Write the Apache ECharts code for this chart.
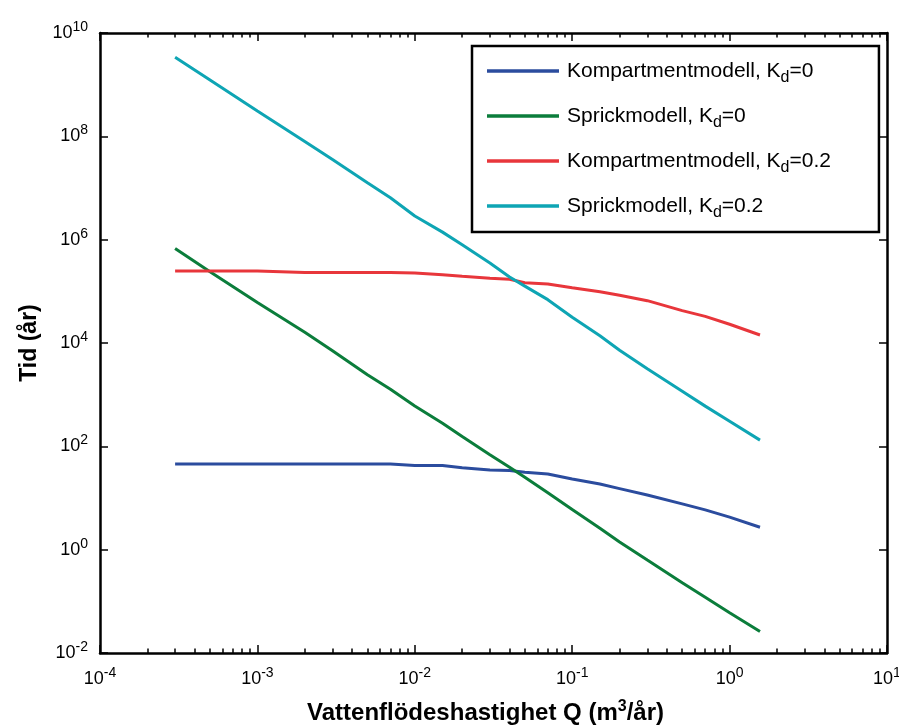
<!DOCTYPE html>
<html><head><meta charset="utf-8">
<script src="https://cdn.jsdelivr.net/npm/echarts@6/dist/echarts.min.js"></script>
<style>html,body{margin:0;padding:0;background:#fff}#c{width:899px;height:726px}</style>
</head><body><div id="c"></div>
<script>
// ---- data ----
const flowQ = [3e-4, 5e-4, 1e-3, 2e-3, 3e-3, 5e-3, 7e-3, 1e-2, 1.5e-2, 2e-2, 3e-2, 4e-2, 5e-2, 7e-2, 0.1, 0.15, 0.2, 0.3, 0.5, 0.7, 1.0, 1.56];
const kompKd0 = [45.6, 45.6, 45.6, 45.6, 45.6, 45.6, 45.6, 42.7, 42.7, 38.6, 34.8, 33.9, 31.5, 29.2, 23.3, 18.6, 15.2, 11.4, 7.7, 5.9, 4.27, 2.72];
const sprickKd0 = [6.76e5, 2.4e5, 6.1e4, 1.61e4, 7.1e3, 2.42e3, 1.27e3, 603, 279, 155, 69, 39.5, 25.3, 12.6, 6.0, 2.6, 1.41, 0.63, 0.23, 0.12, 0.060, 0.026];
const kompKd02 = [2.48e5, 2.48e5, 2.48e5, 2.32e5, 2.32e5, 2.32e5, 2.32e5, 2.27e5, 2.1e5, 1.95e5, 1.8e5, 1.71e5, 1.47e5, 1.38e5, 1.17e5, 9.8e4, 8.4e4, 6.6e4, 4.24e4, 3.28e4, 2.31e4, 1.43e4];
const sprickKd02 = [3.39e9, 1.23e9, 3.09e8, 7.94e7, 3.55e7, 1.26e7, 6.46e6, 2.88e6, 1.4e6, 7.94e5, 3.55e5, 1.9e5, 1.26e5, 6.9e4, 3.16e4, 1.38e4, 7.24e3, 3.16e3, 1.17e3, 600, 306, 132];

const seriesNames = ['Kompartmentmodell, Kd=0', 'Sprickmodell, Kd=0', 'Kompartmentmodell, Kd=0.2', 'Sprickmodell, Kd=0.2'];
const legendParts = [['Kompartmentmodell, K', 'd', '=0'], ['Sprickmodell, K', 'd', '=0'], ['Kompartmentmodell, K', 'd', '=0.2'], ['Sprickmodell, K', 'd', '=0.2']];
const seriesColors = ['#2b4c9e', '#0b7d3b', '#e8363b', '#0ea5b4'];

const xMajorTicks = [1e-4, 1e-3, 1e-2, 1e-1, 1, 10];
const xMinorMultipliers = [2, 3, 4, 5, 6, 7, 8, 9];
const yMajorTicks = [1e-2, 1, 1e2, 1e4, 1e6, 1e8, 1e10];
const xTitleParts = ['Vattenflödeshastighet Q (m', '3', '/år)'];
const yTitle = 'Tid (år)';

const xMinorTicks = [];
xMajorTicks.slice(0, -1).forEach(d => xMinorMultipliers.forEach(m => xMinorTicks.push(+(m * d).toPrecision(3))));

const FONT = '"Liberation Sans", Arial, Helvetica, sans-serif';
const allSeries = [kompKd0, sprickKd0, kompKd02, sprickKd02];

function powLabel(v) {
  const e = Math.round(Math.log10(v));
  return '{b|10}{s|' + e + '}';
}
const powRich = {
  b: { fontSize: 18, fontFamily: FONT, color: '#000', lineHeight: 26, verticalAlign: 'middle' },
  s: { fontSize: 14, fontFamily: FONT, color: '#000', lineHeight: 14, padding: [0, 0, 12, 0], verticalAlign: 'middle' }
};
const axisLineStyle = { show: true, lineStyle: { color: '#000', width: 2.5 } };

const xBase = { type: 'log', logBase: 10, min: 1e-4, max: 10, gridIndex: 0, splitLine: { show: false }, axisPointer: { show: false } };
const yBase = { type: 'log', logBase: 10, min: 1e-2, max: 1e10, gridIndex: 0, splitLine: { show: false }, axisPointer: { show: false } };

const option = {
  animation: false,
  backgroundColor: '#fff',
  grid: { left: 100, right: 12, top: 33, bottom: 73, containLabel: false, outerBoundsMode: 'none' },
  xAxis: [
    Object.assign({}, xBase, {
      position: 'bottom',
      axisLine: axisLineStyle,
      axisTick: { show: true, inside: true, length: 8, customValues: xMajorTicks, lineStyle: { color: '#000', width: 1.5 } },
      axisLabel: { show: true, margin: 13, customValues: xMajorTicks, formatter: powLabel, rich: powRich, showMaxLabel: true, showMinLabel: true },
      name: '{t|' + xTitleParts[0] + '}{s|' + xTitleParts[1] + '}{t|' + xTitleParts[2] + '}',
      nameLocation: 'middle', nameGap: 46,
      nameTextStyle: {
        padding: [0, 16, 0, 0],
        rich: {
          t: { fontSize: 24, fontWeight: 'bold', fontFamily: FONT, color: '#000', lineHeight: 28, verticalAlign: 'middle' },
          s: { fontSize: 16, fontWeight: 'bold', fontFamily: FONT, color: '#000', lineHeight: 15, padding: [0, 0, 12, 0], verticalAlign: 'middle' }
        }
      }
    }),
    Object.assign({}, xBase, {
      position: 'bottom',
      axisLine: { show: false },
      axisTick: { show: true, inside: true, length: 4.5, customValues: xMinorTicks, lineStyle: { color: '#000', width: 1.5 } },
      axisLabel: { show: false }
    }),
    Object.assign({}, xBase, {
      position: 'top',
      axisLine: axisLineStyle,
      axisTick: { show: true, inside: true, length: 8, customValues: xMajorTicks, lineStyle: { color: '#000', width: 1.5 } },
      axisLabel: { show: false }
    }),
    Object.assign({}, xBase, {
      position: 'top',
      axisLine: { show: false },
      axisTick: { show: true, inside: true, length: 4.5, customValues: xMinorTicks, lineStyle: { color: '#000', width: 1.5 } },
      axisLabel: { show: false }
    })
  ],
  yAxis: [
    Object.assign({}, yBase, {
      position: 'left',
      axisLine: axisLineStyle,
      axisTick: { show: true, inside: true, length: 8, customValues: yMajorTicks, lineStyle: { color: '#000', width: 1.5 } },
      axisLabel: { show: true, margin: 12, customValues: yMajorTicks, formatter: powLabel, rich: powRich, showMaxLabel: true, showMinLabel: true },
      name: yTitle, nameLocation: 'middle', nameGap: 58, nameRotate: 90,
      nameTextStyle: { fontSize: 23, fontWeight: 'bold', fontFamily: FONT, color: '#000' }
    }),
    Object.assign({}, yBase, {
      position: 'right',
      axisLine: axisLineStyle,
      axisTick: { show: true, inside: true, length: 8, customValues: yMajorTicks, lineStyle: { color: '#000', width: 1.5 } },
      axisLabel: { show: false }
    })
  ],
  legend: {
    show: true,
    orient: 'vertical',
    left: 472, top: 46,
    padding: [10, 48, 11, 15],
    borderColor: '#000', borderWidth: 2.5,
    backgroundColor: '#fff',
    itemWidth: 72, itemHeight: 3.5, itemGap: 15,
    icon: 'rect',
    data: seriesNames,
    selectedMode: false,
    formatter: function (name) {
      const p = legendParts[seriesNames.indexOf(name)];
      return '{k|' + p[0] + '}{d|' + p[1] + '}{v|' + p[2] + '}';
    },
    textStyle: {
      color: '#000', fontFamily: FONT, fontSize: 21,
      rich: {
        k: { fontSize: 21, fontFamily: FONT, color: '#000', lineHeight: 24, verticalAlign: 'middle', padding: [0, 0, 0, 3] },
        d: { fontSize: 16, fontFamily: FONT, color: '#000', lineHeight: 15, padding: [14, 0, 0, 0], verticalAlign: 'middle' },
        v: { fontSize: 21, fontFamily: FONT, color: '#000', lineHeight: 24, verticalAlign: 'middle' }
      }
    }
  },
  series: allSeries.map((arr, i) => ({
    name: seriesNames[i],
    type: 'line',
    xAxisIndex: 0, yAxisIndex: 0,
    showSymbol: false, symbol: 'none',
    color: seriesColors[i],
    lineStyle: { color: seriesColors[i], width: 3 },
    emphasis: { disabled: true },
    data: flowQ.map((q, j) => [q, arr[j]])
  }))
};

const chart = echarts.init(document.getElementById('c'), null, { renderer: 'canvas' });
chart.setOption(option);
</script>
</body></html>
